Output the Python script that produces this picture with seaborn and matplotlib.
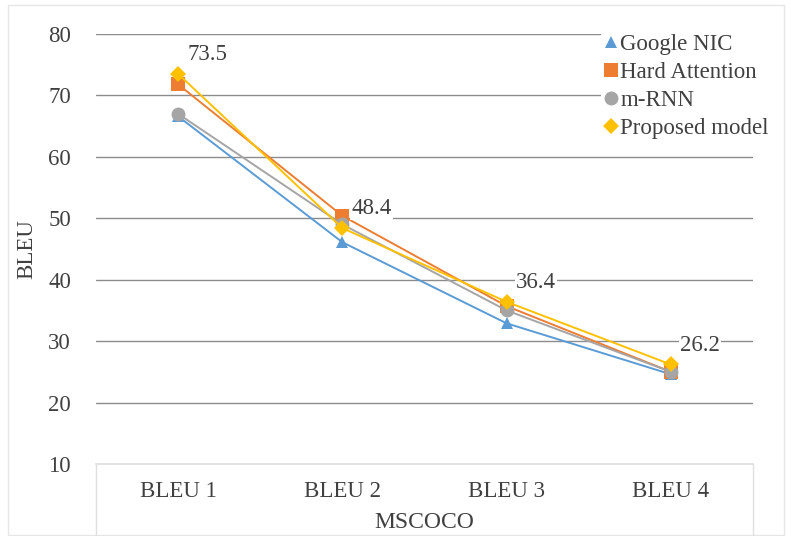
import pandas as pd
import seaborn as sns
import matplotlib.pyplot as plt
from matplotlib.lines import Line2D
from matplotlib.patches import Rectangle

# data
metrics = ['BLEU 1', 'BLEU 2', 'BLEU 3', 'BLEU 4']
google_nic = [66.6, 46.1, 32.9, 24.6]
hard_attention = [71.8, 50.4, 35.7, 25.0]
m_rnn = [67.0, 49.0, 35.0, 25.0]
proposed = [73.5, 48.4, 36.4, 26.2]

models = ['Google NIC', 'Hard Attention', 'm-RNN', 'Proposed model']
series = [google_nic, hard_attention, m_rnn, proposed]
colors = ['#5B9BD5', '#ED7D31', '#A5A5A5', '#FFC000']
markers = ['^', 's', 'o', 'D']
msizes = [9, 10, 10, 8]

rows = []
for name, vals in zip(models, series):
    for m, v in zip(metrics, vals):
        rows.append({'metric': m, 'score': v, 'model': name})
df = pd.DataFrame(rows)

sns.set_theme(style='white')
plt.rcParams['font.family'] = ['Liberation Serif', 'DejaVu Serif']
text_col = '#404040'

fig = plt.figure(figsize=(7.91, 5.36), dpi=100)
ax = fig.add_axes([96 / 791, 1 - 464 / 536, (753 - 96) / 791, (464 - 34) / 536])

for name, col, mk, ms in zip(models, colors, markers, msizes):
    sub = df[df['model'] == name]
    sns.lineplot(data=sub, x='metric', y='score', color=col, marker=mk,
                 markersize=ms, markeredgewidth=0, linewidth=1.4, ax=ax,
                 legend=False, zorder=3)

# data labels for the proposed model
for i, v in enumerate(proposed):
    ax.annotate(f'{v}', (i, v), xytext=(21, 14), textcoords='offset points',
                ha='center', va='center', fontsize=16.5, color=text_col,
                bbox=dict(boxstyle='square,pad=0.05', fc='white', ec='none'),
                zorder=4)

ax.set_xlim(-0.5, 3.5)
ax.set_ylim(10, 80)
ax.set_yticks(range(10, 90, 10))
ax.yaxis.grid(True, color='#8c8c8c', linewidth=1.0)
ax.get_ygridlines()[0].set_visible(False)
ax.set_axisbelow(True)
for s in ['top', 'right', 'left']:
    ax.spines[s].set_visible(False)
ax.spines['bottom'].set_color('#e0e0e0')
ax.tick_params(axis='both', length=0, labelsize=16.5, labelcolor=text_col)
ax.tick_params(axis='y', pad=18)
ax.tick_params(axis='x', pad=12)
ax.set_xlabel('')
ax.set_ylabel('BLEU', fontsize=16.5, color=text_col, labelpad=8)

# light box around category area
for xp in [96 / 791, 753 / 791]:
    fig.add_artist(Line2D([xp, xp], [0, 1 - 464 / 536], color='#e0e0e0', lw=1))
fig.add_artist(Rectangle((8 / 791, 1 / 536), 776 / 791, 530 / 536,
                         fill=False, ec='#e6e6e6', lw=1))

fig.text(424 / 791, 8 / 536, 'MSCOCO', ha='center', va='baseline',
         fontsize=17, color=text_col)

handles = [Line2D([], [], linestyle='none', marker=mk, color=c, markersize=ms,
                  markeredgewidth=0)
           for mk, c, ms in zip(markers, colors, msizes)]
leg = ax.legend(handles, models, loc='upper left',
                bbox_to_anchor=(601 / 791, 1 - 31 / 536),
                bbox_transform=fig.transFigure, frameon=True, fontsize=16.5,
                handlelength=0.6, handletextpad=0.1, labelspacing=0.3,
                borderpad=0.15, borderaxespad=0)
leg.get_frame().set_edgecolor('none')
leg.get_frame().set_facecolor('white')
leg.get_frame().set_alpha(1)
leg.set_zorder(5)
for t in leg.get_texts():
    t.set_color(text_col)

fig.savefig('out.png', dpi=100)
